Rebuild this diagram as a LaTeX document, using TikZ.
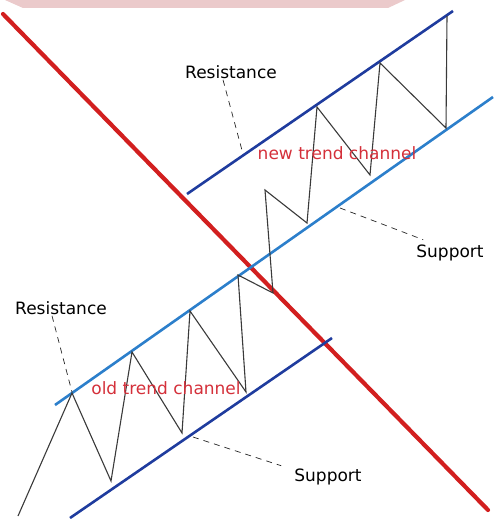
\documentclass[tikz,border=0pt]{standalone}
\usepackage{fontspec}
\setmainfont{DejaVu Sans}
\definecolor{trRed}{HTML}{D21F1F}
\definecolor{trDeep}{HTML}{1F3C9E}
\definecolor{trLight}{HTML}{2C7FCB}
\definecolor{trPink}{HTML}{EBCACB}
\definecolor{trInk}{HTML}{3A3A3A}
\definecolor{trLabel}{HTML}{D4303A}
\tikzset{
  trendline/.style={draw=trRed,line width=4.2pt,line cap=round},
  deeprail/.style={draw=trDeep,line width=2.6pt},
  lightrail/.style={draw=trLight,line width=2.6pt},
  price/.style={draw=trInk,line width=1.1pt},
  leader/.style={draw=black!85,line width=.7pt,dash pattern=on 6pt off 5pt},
  caption/.style={font=\fontsize{17}{19}\selectfont,text=black,inner sep=1pt},
  channel/.style={caption,text=trLabel},
}
\begin{document}
\begin{tikzpicture}[x=1pt,y=-1pt]
  \useasboundingbox (0,0) rectangle (493,519);
  \fill[trPink] (5,0) -- (405,0) -- (388,8) -- (23,8) -- cycle;
  % broken trend line
  \draw[trendline] (3,14) -- (488,510);
  % channel rails
  \draw[deeprail] (187,194) -- (453,11);
  \draw[lightrail] (55,405) -- (493,97);
  \draw[deeprail] (70,518) -- (332,338);
  % price path
  \draw[price] (18,516)
    \foreach \p in {(72,393),(111,481),(132,352),(182,433),(190,311),(246,392),
      (238,275),(273,293),(265,190),(307,223),(317,107),(370,175),(380,63),
      (446,128),(447,16)} { -- \p };
  % labels
  \node[caption] (resNew) at (231,72) {Resistance};
  \node[channel] (chNew) at (337,153) {new trend channel};
  \node[caption] (supNew) at (450,253) {Support};
  \node[caption] (resOld) at (61,308) {Resistance};
  \node[channel] (chOld) at (166,388) {old trend channel};
  \node[caption] (supOld) at (328,477) {Support};
  \coordinate (resNewTip) at (243,154);
  \coordinate (supNewTip) at (340,208);
  \coordinate (resOldTip) at (72,392);
  \coordinate (supOldTip) at (193,437);
  \draw[leader] ([xshift=-8pt]resNew.south) -- (resNewTip);
  \draw[leader] (supNewTip) -- ([xshift=8pt,yshift=4pt]supNew.north west);
  \draw[leader] ([xshift=-9pt]resOld.south) -- (resOldTip);
  \draw[leader] (supOldTip) -- ([xshift=-12pt,yshift=2pt]supOld.north west);
\end{tikzpicture}
\end{document}
